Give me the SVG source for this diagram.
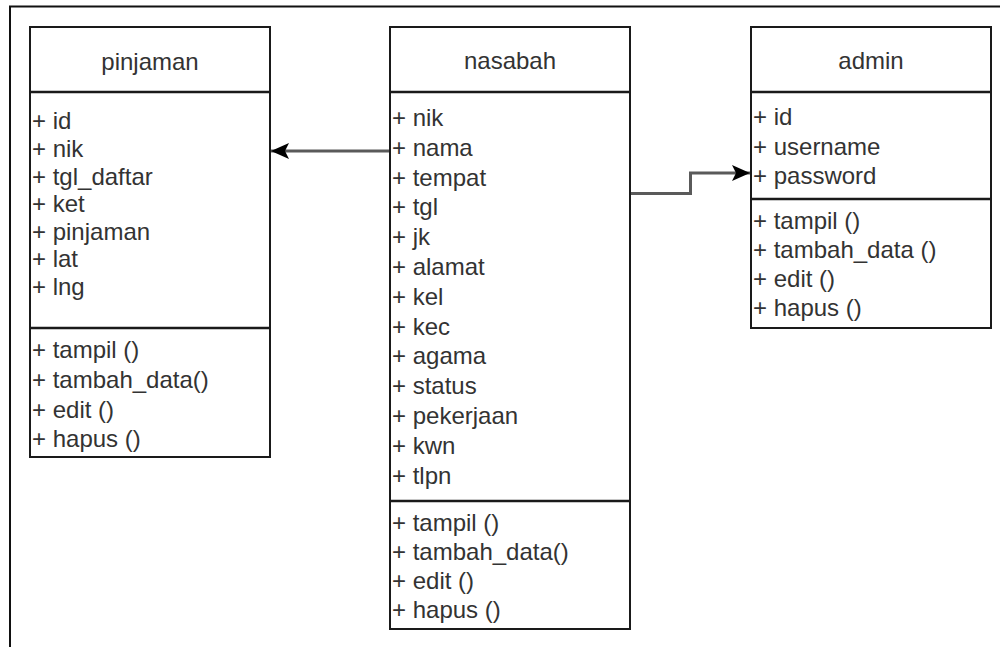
<svg xmlns="http://www.w3.org/2000/svg" width="1000" height="647" viewBox="0 0 1000 647">
<style>
.box{fill:#ffffff;stroke:#1a1a1a;stroke-width:2}
.div{stroke:#1a1a1a;stroke-width:2.5}
.t{font-family:"Liberation Sans",Arial,sans-serif;font-size:24px;fill:#333333}
.h{text-anchor:middle}
.edge{fill:none;stroke:#5a5a5a;stroke-width:3}
</style>
<defs>
<marker id="arr" markerUnits="userSpaceOnUse" markerWidth="20" markerHeight="18" viewBox="0 0 20 18" refX="18" refY="9" orient="auto">
<path d="M0,1 L18,9 L0,17 L4,9 Z" fill="#000"/>
</marker>
</defs>
<rect x="0" y="0" width="1000" height="647" fill="#ffffff"/>
<g id="frame">
<path d="M10,647 L10,6.5 L1000,6.5" fill="none" stroke="#111" stroke-width="2"/>
</g>
<g id="pinjaman">
<rect class="box" x="30" y="27" width="240" height="430"/>
<line class="div" x1="30" y1="92" x2="270" y2="92"/>
<line class="div" x1="30" y1="328" x2="270" y2="328"/>
<text class="t h" x="150" y="70">pinjaman</text>
<text class="t" x="32" y="129">+ id</text>
<text class="t" x="32" y="157">+ nik</text>
<text class="t" x="32" y="185">+ tgl_daftar</text>
<text class="t" x="32" y="212">+ ket</text>
<text class="t" x="32" y="240">+ pinjaman</text>
<text class="t" x="32" y="267">+ lat</text>
<text class="t" x="32" y="295">+ lng</text>
<text class="t" x="32" y="358">+ tampil ()</text>
<text class="t" x="32" y="388">+ tambah_data()</text>
<text class="t" x="32" y="418">+ edit ()</text>
<text class="t" x="32" y="447">+ hapus ()</text>
</g>
<g id="nasabah">
<rect class="box" x="390" y="27" width="240" height="602"/>
<line class="div" x1="390" y1="92" x2="630" y2="92"/>
<line class="div" x1="390" y1="501" x2="630" y2="501"/>
<text class="t h" x="510" y="69">nasabah</text>
<text class="t" x="392" y="126">+ nik</text>
<text class="t" x="392" y="156">+ nama</text>
<text class="t" x="392" y="186">+ tempat</text>
<text class="t" x="392" y="215">+ tgl</text>
<text class="t" x="392" y="245">+ jk</text>
<text class="t" x="392" y="275">+ alamat</text>
<text class="t" x="392" y="305">+ kel</text>
<text class="t" x="392" y="335">+ kec</text>
<text class="t" x="392" y="364">+ agama</text>
<text class="t" x="392" y="394">+ status</text>
<text class="t" x="392" y="424">+ pekerjaan</text>
<text class="t" x="392" y="454">+ kwn</text>
<text class="t" x="392" y="484">+ tlpn</text>
<text class="t" x="392" y="531">+ tampil ()</text>
<text class="t" x="392" y="560">+ tambah_data()</text>
<text class="t" x="392" y="589">+ edit ()</text>
<text class="t" x="392" y="618">+ hapus ()</text>
</g>
<g id="admin">
<rect class="box" x="751" y="27" width="240" height="301"/>
<line class="div" x1="751" y1="92" x2="991" y2="92"/>
<line class="div" x1="751" y1="199" x2="991" y2="199"/>
<text class="t h" x="871" y="69">admin</text>
<text class="t" x="753" y="125">+ id</text>
<text class="t" x="753" y="155">+ username</text>
<text class="t" x="753" y="184">+ password</text>
<text class="t" x="753" y="229">+ tampil ()</text>
<text class="t" x="753" y="258">+ tambah_data ()</text>
<text class="t" x="753" y="287">+ edit ()</text>
<text class="t" x="753" y="316">+ hapus ()</text>
</g>
<g id="connectors">
<path class="edge" d="M389,151 L271,151" marker-end="url(#arr)"/>
<path class="edge" d="M631,193.5 L690.5,193.5 L690.5,173 L750,173" marker-end="url(#arr)"/>
</g>
</svg>
